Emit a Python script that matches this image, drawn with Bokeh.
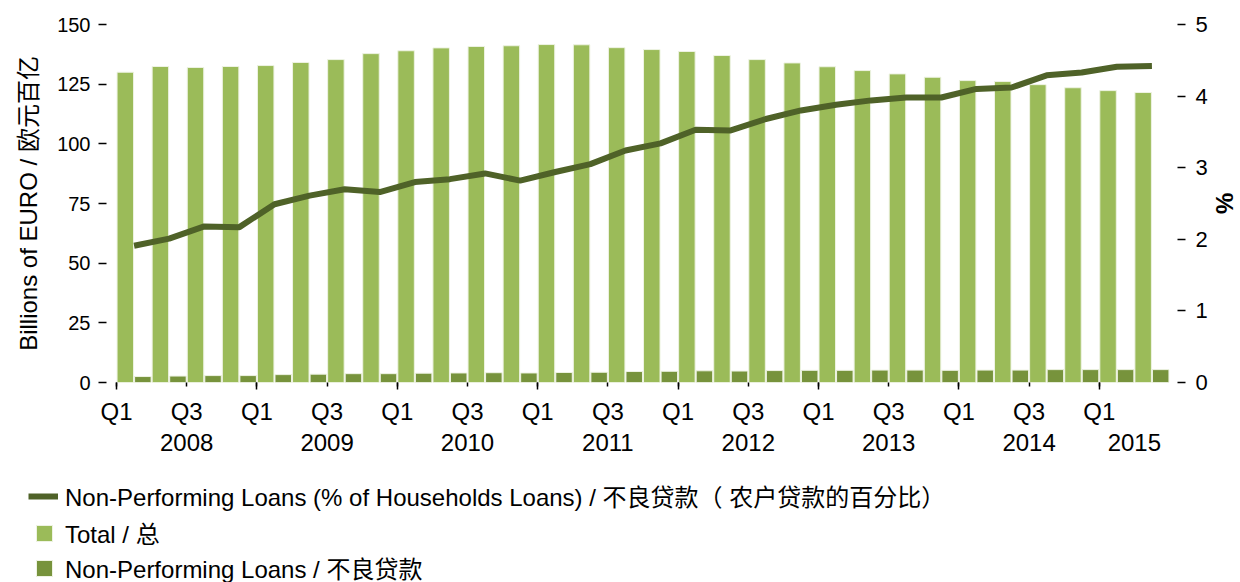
from bokeh.plotting import figure
from bokeh.layouts import column
from bokeh.models import (Range1d, LinearAxis, FixedTicker, Legend, LegendItem,
                          ColumnDataSource)
from bokeh.embed import file_html
from bokeh.resources import INLINE

# ---------------- data ----------------
quarters = ["2008 Q1", "2008 Q2", "2008 Q3", "2008 Q4",
            "2009 Q1", "2009 Q2", "2009 Q3", "2009 Q4",
            "2010 Q1", "2010 Q2", "2010 Q3", "2010 Q4",
            "2011 Q1", "2011 Q2", "2011 Q3", "2011 Q4",
            "2012 Q1", "2012 Q2", "2012 Q3", "2012 Q4",
            "2013 Q1", "2013 Q2", "2013 Q3", "2013 Q4",
            "2014 Q1", "2014 Q2", "2014 Q3", "2014 Q4",
            "2015 Q1", "2015 Q2"]

total_loans = [130.0, 132.4, 132.0, 132.4, 132.8, 134.1, 135.3, 137.8,
               139.0, 140.2, 140.8, 141.1, 141.6, 141.5, 140.3, 139.5,
               138.7, 137.0, 135.3, 133.9, 132.3, 130.7, 129.3, 127.9,
               126.5, 126.1, 124.8, 123.5, 122.3, 121.5]

npl_loans = [2.5, 2.7, 2.9, 2.9, 3.3, 3.5, 3.7, 3.7, 3.9, 4.0,
             4.1, 4.0, 4.2, 4.3, 4.6, 4.7, 4.9, 4.8, 5.0, 5.1,
             5.1, 5.2, 5.2, 5.1, 5.2, 5.2, 5.4, 5.4, 5.4, 5.4]

npl_pct = [1.91, 2.01, 2.18, 2.17, 2.49, 2.61, 2.70, 2.66, 2.80, 2.84,
           2.92, 2.82, 2.94, 3.05, 3.24, 3.34, 3.53, 3.52, 3.68, 3.80,
           3.88, 3.94, 3.98, 3.98, 4.10, 4.12, 4.29, 4.33, 4.41, 4.42]

quarter_tick_labels = ["Q1", "Q3"]
left_ticks = [0, 25, 50, 75, 100, 125, 150]
right_ticks = [0, 1, 2, 3, 4, 5]

label_line = "Non-Performing Loans (% of Households Loans) / 不良贷款（ 农户贷款的百分比）"
label_total = "Total / 总"
label_npl = "Non-Performing Loans / 不良贷款"
left_title = "Billions of EURO / 欧元百亿"
right_title = "%"

# ---------------- styling ----------------
C_TOTAL = "#9BBB59"
C_NPL = "#77933C"
C_LINE = "#4F6228"
EDGE = "#EEF3E3"
FONT = "Liberation Sans, Noto Sans CJK SC"
FS = "24px"

idx = list(range(len(quarters)))
src = ColumnDataSource(dict(
    x_total=[i + 0.25 for i in idx],
    x_npl=[i + 0.75 for i in idx],
    x_mid=[i + 0.5 for i in idx],
    total=total_loans,
    npl=npl_loans,
    pct=npl_pct,
))

n = len(quarters)
p = figure(width=1240, height=470, output_backend="svg", toolbar_location=None,
           x_range=Range1d(-10 / 35, n + 8 / 35), y_range=Range1d(0, 150),
           min_border_left=106, min_border_right=58, min_border_top=24,
           min_border_bottom=88, x_axis_location=None, y_axis_location=None)
p.outline_line_color = None
p.grid.visible = False
p.extra_y_ranges = {"pct": Range1d(0, 5)}

bar_style = dict(width=0.47, bottom=0, line_color=EDGE, line_width=1)
r_total = p.vbar(x="x_total", top="total", source=src, fill_color=C_TOTAL, **bar_style)
r_npl = p.vbar(x="x_npl", top="npl", source=src, fill_color=C_NPL, **bar_style)
r_line = p.line(x="x_mid", y="pct", source=src, y_range_name="pct",
                line_color=C_LINE, line_width=6)

# left axis
yl = LinearAxis(ticker=FixedTicker(ticks=left_ticks), axis_label=left_title)
# right axis
yr = LinearAxis(ticker=FixedTicker(ticks=right_ticks), y_range_name="pct",
                axis_label=right_title)
for ax in (yl, yr):
    ax.axis_line_color = None
    ax.major_tick_in = 0
    ax.major_tick_out = 8
    ax.major_tick_line_width = 1.5
    ax.minor_tick_line_color = None
    ax.major_label_text_font = FONT
    ax.major_label_text_font_size = "22px"
    ax.major_label_text_color = "black"
    ax.axis_label_text_font = FONT
    ax.axis_label_text_font_size = FS
    ax.axis_label_text_color = "black"
yl.major_label_text_font_size = "20px"
yl.major_label_standoff = 8
yl.axis_label_standoff = 12
yl.axis_label_text_font_style = "normal"
yr.major_label_standoff = 10
yr.axis_label_standoff = 0
yr.axis_label_text_font_style = "bold"
p.add_layout(yl, "left")
p.add_layout(yr, "right")

# quarter axis
q_pos = [i for i, q in enumerate(quarters) if q.split()[1] in quarter_tick_labels]
q1_pos = [i for i, q in enumerate(quarters) if q.split()[1] == "Q1"]
xq = LinearAxis(ticker=FixedTicker(ticks=q_pos, minor_ticks=q1_pos))
xq.major_label_overrides = {i: quarters[i].split()[1] for i in q_pos}
xq.axis_line_color = None
xq.major_tick_in = 0
xq.major_tick_out = 4
xq.minor_tick_in = 0
xq.minor_tick_out = 7
xq.major_tick_line_width = 1.5
xq.minor_tick_line_width = 1.5
xq.major_label_standoff = 8
xq.major_label_text_font = FONT
xq.major_label_text_font_size = FS
xq.major_label_text_color = "black"
p.add_layout(xq, "below")

# year axis
years = []
for q in quarters:
    y = q.split()[0]
    if y not in years:
        years.append(y)
year_centers = []
for y in years:
    members = [i for i, q in enumerate(quarters) if q.startswith(y)]
    year_centers.append((members[0] + members[-1] + 1) / 2)
xy = LinearAxis(ticker=FixedTicker(ticks=year_centers))
xy.major_label_overrides = {c: y for c, y in zip(year_centers, years)}
xy.axis_line_color = None
xy.major_tick_line_color = None
xy.minor_tick_line_color = None
xy.major_tick_out = 0
xy.major_tick_in = 0
xy.major_label_standoff = 6
xy.major_label_text_font = FONT
xy.major_label_text_font_size = FS
xy.major_label_text_color = "black"
p.add_layout(xy, "below")

# ---------------- legend panel ----------------
# proxy renderers reuse the real data but lie outside this panel's view
lp = figure(width=1240, height=112, output_backend="svg", toolbar_location=None,
            x_range=Range1d(-3, -2), y_range=Range1d(-3, -2), min_border=0,
            min_border_left=0, min_border_right=0,
            x_axis_location=None, y_axis_location=None)
lp.outline_line_color = None
lp.grid.visible = False
k_line = lp.line(x="x_mid", y="pct", source=src, line_color=C_LINE, line_width=6)
k_total = lp.vbar(x="x_total", top="total", source=src, fill_color=C_TOTAL, **bar_style)
k_npl = lp.vbar(x="x_npl", top="npl", source=src, fill_color=C_NPL, **bar_style)

def make_legend(label, rend, loc, gw):
    lg = Legend(items=[LegendItem(label=label, renderers=[rend])], location=loc,
                glyph_width=gw, glyph_height=20, label_height=20,
                label_standoff=7 if gw == 30 else 11, padding=0, margin=0,
                spacing=0, border_line_color=None, background_fill_alpha=0,
                label_text_font=FONT, label_text_font_size=FS,
                label_text_color="black")
    lp.add_layout(lg)

make_legend(label_line, k_line, (28, 69), 30)
make_legend(label_total, k_total, (34, 32), 20)
make_legend(label_npl, k_npl, (34, -3), 20)

layout = column(p, column(lp), spacing=0)
open("out.html", "w").write(file_html(layout, INLINE))
